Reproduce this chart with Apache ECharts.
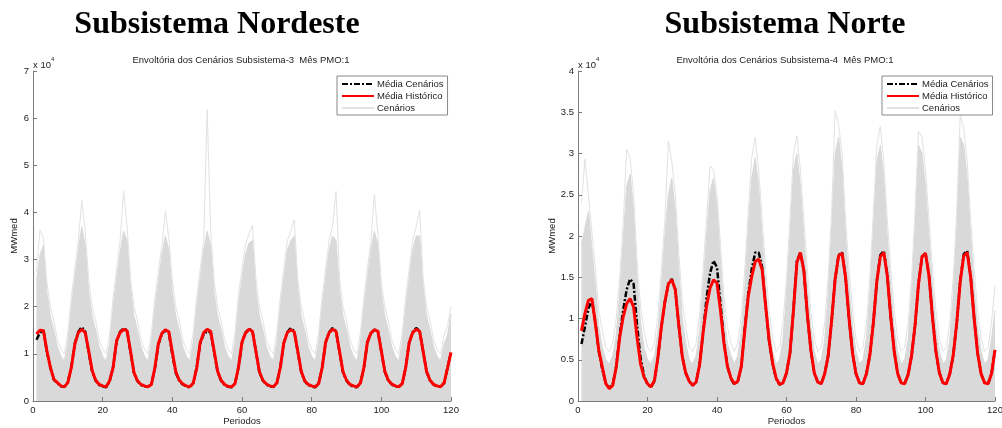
<!DOCTYPE html>
<html>
<head>
<meta charset="utf-8">
<style>body{margin:0;background:#fff;}</style>
</head>
<body>
<div id="main" style="width:1002px;height:428px;"></div>
<script src="https://cdn.jsdelivr.net/npm/echarts@6/dist/echarts.min.js"></script>
<script type="text/javascript">
// valores em x 10^4 MWmed, periodos 1..120 (uma linha por ano)
var nordesteHistorico = [
    1.42, 1.50, 1.49, 1.06, 0.71, 0.46, 0.39, 0.32, 0.30, 0.39, 0.71, 1.20,
    1.45, 1.52, 1.45, 1.06, 0.64, 0.44, 0.35, 0.32, 0.30, 0.43, 0.71, 1.28,
    1.45, 1.52, 1.49, 1.06, 0.60, 0.43, 0.35, 0.32, 0.30, 0.35, 0.71, 1.22,
    1.44, 1.51, 1.47, 1.04, 0.62, 0.44, 0.36, 0.32, 0.30, 0.38, 0.70, 1.24,
    1.45, 1.52, 1.48, 1.06, 0.63, 0.44, 0.35, 0.31, 0.30, 0.37, 0.72, 1.25,
    1.44, 1.52, 1.48, 1.05, 0.62, 0.44, 0.36, 0.32, 0.30, 0.38, 0.71, 1.23,
    1.45, 1.51, 1.47, 1.06, 0.63, 0.43, 0.35, 0.32, 0.30, 0.37, 0.70, 1.24,
    1.45, 1.52, 1.48, 1.05, 0.62, 0.44, 0.35, 0.32, 0.30, 0.38, 0.71, 1.25,
    1.44, 1.51, 1.48, 1.06, 0.63, 0.44, 0.36, 0.32, 0.30, 0.37, 0.71, 1.24,
    1.45, 1.52, 1.48, 1.05, 0.62, 0.44, 0.35, 0.32, 0.30, 0.38, 0.70, 1.03
];
var nordesteCenarios = [
    1.30, 1.45, 1.50, 1.04, 0.70, 0.45, 0.38, 0.31, 0.30, 0.40, 0.72, 1.22,
    1.47, 1.57, 1.47, 1.02, 0.62, 0.43, 0.34, 0.31, 0.29, 0.42, 0.72, 1.26,
    1.47, 1.54, 1.50, 1.03, 0.58, 0.42, 0.34, 0.31, 0.30, 0.36, 0.70, 1.20,
    1.42, 1.50, 1.44, 0.98, 0.60, 0.42, 0.35, 0.31, 0.29, 0.38, 0.71, 1.22,
    1.42, 1.48, 1.46, 1.04, 0.61, 0.43, 0.34, 0.30, 0.29, 0.37, 0.71, 1.24,
    1.45, 1.53, 1.49, 1.05, 0.61, 0.43, 0.35, 0.31, 0.30, 0.38, 0.71, 1.23,
    1.46, 1.55, 1.48, 1.05, 0.62, 0.42, 0.34, 0.31, 0.29, 0.37, 0.70, 1.24,
    1.46, 1.55, 1.48, 1.04, 0.61, 0.43, 0.34, 0.30, 0.29, 0.38, 0.71, 1.24,
    1.44, 1.51, 1.49, 1.05, 0.62, 0.43, 0.35, 0.31, 0.30, 0.37, 0.71, 1.24,
    1.46, 1.55, 1.48, 1.05, 0.62, 0.43, 0.35, 0.31, 0.30, 0.38, 0.70, 1.04
];
// limite superior da faixa densa dos cenarios e linha extrema
var nordesteTopo = [
    2.55, 3.10, 3.30, 2.30, 1.80, 1.50, 1.15, 0.95, 0.85, 1.25, 2.00, 2.60,
    3.20, 3.70, 3.30, 2.30, 1.80, 1.50, 1.15, 0.95, 0.85, 1.20, 2.00, 2.60,
    3.15, 3.60, 3.40, 2.40, 1.80, 1.50, 1.15, 0.95, 0.85, 1.25, 2.00, 2.55,
    3.10, 3.50, 3.20, 2.30, 1.80, 1.50, 1.15, 0.95, 0.85, 1.25, 2.00, 2.60,
    3.20, 3.60, 3.30, 2.30, 1.80, 1.50, 1.15, 0.95, 0.85, 1.25, 2.05, 2.60,
    3.10, 3.35, 3.40, 2.35, 1.80, 1.50, 1.15, 0.95, 0.85, 1.25, 2.00, 2.60,
    3.20, 3.40, 3.50, 2.40, 1.80, 1.50, 1.15, 0.95, 0.85, 1.25, 2.00, 2.60,
    3.20, 3.50, 3.40, 2.35, 1.80, 1.50, 1.15, 0.95, 0.85, 1.25, 2.00, 2.60,
    3.20, 3.60, 3.30, 2.30, 1.80, 1.50, 1.15, 0.95, 0.85, 1.25, 2.00, 2.60,
    3.20, 3.50, 3.50, 2.40, 1.80, 1.50, 1.15, 0.95, 0.85, 1.20, 1.40, 1.85
];
var nordesteMaximo = [
    2.75, 3.63, 3.45, 2.50, 2.00, 1.70, 1.30, 1.10, 1.00, 1.45, 2.20, 2.80,
    3.40, 4.25, 3.60, 2.55, 2.00, 1.70, 1.30, 1.10, 1.00, 1.40, 2.20, 2.80,
    3.40, 4.46, 3.70, 2.60, 2.00, 1.70, 1.30, 1.10, 1.00, 1.45, 2.20, 2.75,
    3.30, 4.03, 3.45, 2.55, 2.00, 1.70, 1.30, 1.10, 1.00, 1.45, 2.20, 2.80,
    3.40, 6.18, 3.60, 2.55, 2.00, 1.70, 1.30, 1.10, 1.00, 1.45, 2.25, 2.80,
    3.30, 3.55, 3.73, 2.60, 2.00, 1.70, 1.30, 1.10, 1.00, 1.45, 2.20, 2.80,
    3.40, 3.60, 3.84, 2.60, 2.00, 1.70, 1.30, 1.10, 1.00, 1.45, 2.20, 2.80,
    3.40, 3.70, 4.45, 2.60, 2.00, 1.70, 1.30, 1.10, 1.00, 1.45, 2.20, 2.80,
    3.40, 4.39, 3.55, 2.50, 2.00, 1.70, 1.30, 1.10, 1.00, 1.45, 2.20, 2.80,
    3.40, 3.70, 4.05, 2.60, 2.00, 1.70, 1.30, 1.10, 1.00, 1.40, 1.60, 2.00
];

var norteHistorico = [
    0.85, 1.06, 1.22, 1.24, 0.94, 0.61, 0.41, 0.21, 0.15, 0.19, 0.41, 0.77,
    1.02, 1.18, 1.24, 1.14, 0.77, 0.45, 0.29, 0.21, 0.17, 0.25, 0.53, 0.90,
    1.20, 1.42, 1.47, 1.35, 0.92, 0.54, 0.34, 0.24, 0.19, 0.23, 0.44, 0.83,
    1.15, 1.37, 1.47, 1.43, 1.10, 0.70, 0.42, 0.28, 0.21, 0.24, 0.42, 0.86,
    1.27, 1.51, 1.69, 1.72, 1.59, 1.15, 0.74, 0.46, 0.28, 0.20, 0.22, 0.34,
    0.58, 1.10, 1.68, 1.80, 1.58, 1.05, 0.62, 0.34, 0.23, 0.21, 0.33, 0.55,
    0.98, 1.48, 1.76, 1.79, 1.50, 1.00, 0.58, 0.33, 0.22, 0.21, 0.33, 0.56,
    0.95, 1.45, 1.75, 1.80, 1.52, 1.02, 0.60, 0.33, 0.22, 0.21, 0.32, 0.55,
    0.92, 1.42, 1.75, 1.79, 1.52, 1.02, 0.60, 0.34, 0.22, 0.21, 0.33, 0.56,
    0.95, 1.45, 1.76, 1.80, 1.50, 1.00, 0.58, 0.33, 0.22, 0.21, 0.33, 0.62
];
var norteCenarios = [
    0.69, 0.90, 1.12, 1.22, 0.96, 0.60, 0.38, 0.22, 0.16, 0.20, 0.42, 0.80,
    1.10, 1.35, 1.48, 1.42, 0.92, 0.52, 0.31, 0.20, 0.17, 0.24, 0.52, 0.90,
    1.20, 1.42, 1.48, 1.35, 0.92, 0.54, 0.34, 0.24, 0.19, 0.23, 0.44, 0.83,
    1.25, 1.55, 1.70, 1.62, 1.18, 0.72, 0.42, 0.27, 0.20, 0.24, 0.42, 0.88,
    1.30, 1.60, 1.80, 1.80, 1.62, 1.15, 0.72, 0.45, 0.27, 0.20, 0.22, 0.34,
    0.58, 1.10, 1.70, 1.80, 1.58, 1.04, 0.61, 0.34, 0.23, 0.21, 0.33, 0.55,
    0.97, 1.48, 1.77, 1.80, 1.50, 1.00, 0.58, 0.33, 0.22, 0.21, 0.33, 0.56,
    0.95, 1.46, 1.77, 1.82, 1.53, 1.02, 0.60, 0.33, 0.22, 0.21, 0.32, 0.55,
    0.92, 1.43, 1.75, 1.79, 1.52, 1.02, 0.60, 0.34, 0.22, 0.21, 0.33, 0.56,
    0.95, 1.46, 1.78, 1.82, 1.51, 1.00, 0.58, 0.33, 0.22, 0.21, 0.33, 0.62
];
var norteTopo = [
    1.90, 2.10, 2.30, 1.85, 1.40, 0.90, 0.65, 0.50, 0.45, 0.55, 0.80, 1.30,
    1.95, 2.60, 2.75, 2.30, 1.50, 0.95, 0.65, 0.50, 0.45, 0.55, 0.85, 1.40,
    2.00, 2.50, 2.70, 2.30, 1.60, 1.00, 0.70, 0.50, 0.45, 0.55, 0.85, 1.40,
    2.00, 2.55, 2.70, 2.35, 1.70, 1.05, 0.70, 0.55, 0.45, 0.55, 0.85, 1.40,
    2.10, 2.70, 2.95, 2.60, 2.00, 1.40, 0.90, 0.60, 0.45, 0.50, 0.75, 1.30,
    2.00, 2.80, 3.00, 2.60, 2.00, 1.40, 0.90, 0.60, 0.45, 0.50, 0.75, 1.30,
    2.10, 3.00, 3.20, 2.80, 2.00, 1.40, 0.90, 0.60, 0.45, 0.50, 0.75, 1.30,
    2.10, 2.90, 3.10, 2.70, 2.00, 1.40, 0.90, 0.60, 0.45, 0.50, 0.75, 1.30,
    2.10, 3.10, 3.00, 2.60, 2.00, 1.40, 0.90, 0.60, 0.45, 0.50, 0.75, 1.30,
    2.10, 3.20, 3.10, 2.70, 2.00, 1.40, 0.90, 0.60, 0.45, 0.50, 0.75, 1.10
];
var norteMaximo = [
    2.40, 2.93, 2.50, 2.05, 1.60, 1.10, 0.85, 0.65, 0.60, 0.70, 1.00, 1.50,
    2.15, 3.05, 2.95, 2.50, 1.70, 1.15, 0.85, 0.65, 0.60, 0.70, 1.05, 1.60,
    2.20, 3.15, 2.90, 2.50, 1.80, 1.20, 0.90, 0.65, 0.60, 0.70, 1.05, 1.60,
    2.20, 2.85, 2.80, 2.50, 1.90, 1.25, 0.90, 0.70, 0.60, 0.70, 1.05, 1.60,
    2.30, 2.95, 3.20, 2.80, 2.20, 1.60, 1.10, 0.75, 0.60, 0.65, 0.95, 1.50,
    2.20, 3.00, 3.21, 2.80, 2.20, 1.60, 1.10, 0.75, 0.60, 0.65, 0.95, 1.50,
    2.30, 3.52, 3.35, 3.00, 2.20, 1.60, 1.10, 0.75, 0.60, 0.65, 0.95, 1.50,
    2.30, 3.10, 3.33, 2.90, 2.20, 1.60, 1.10, 0.75, 0.60, 0.65, 0.95, 1.50,
    2.30, 3.27, 3.20, 2.80, 2.20, 1.60, 1.10, 0.75, 0.60, 0.65, 0.95, 1.50,
    2.30, 3.47, 3.30, 2.90, 2.20, 1.60, 1.10, 0.75, 0.60, 0.65, 0.95, 1.40
];

var fonte = '"Liberation Sans", Arial, Helvetica, sans-serif';
var corTexto = '#222';
var corEixo = '#7a7a7a';
var cinzaFaixa = '#d9d9d9';
var cinzaLinha = '#e2e2e2';

function pares(arr) {
    return arr.map(function (v, i) { return [i + 1, v]; });
}

function eixoX(idx) {
    return {
        gridIndex: idx, type: 'value', min: 0, max: 120, interval: 20,
        name: 'Periodos', nameLocation: 'middle', nameGap: 15, nameMoveOverlap: false,
        nameTextStyle: {fontFamily: fonte, fontSize: 9.5, color: corTexto},
        axisLine: {lineStyle: {color: corEixo, width: 1}},
        axisTick: {inside: true, length: 4, lineStyle: {color: corEixo}},
        axisLabel: {fontFamily: fonte, fontSize: 9.5, color: corTexto, margin: 4},
        splitLine: {show: false},
        z: 10
    };
}

function eixoY(idx, max, interval, gap) {
    return {
        gridIndex: idx, type: 'value', min: 0, max: max, interval: interval,
        name: 'MWmed', nameLocation: 'middle', nameGap: gap,
        nameTextStyle: {fontFamily: fonte, fontSize: 9.5, color: corTexto},
        axisLine: {show: true, lineStyle: {color: corEixo, width: 1}},
        axisTick: {show: true, inside: true, length: 4, lineStyle: {color: corEixo}},
        axisLabel: {fontFamily: fonte, fontSize: 9.5, color: corTexto, margin: 4},
        splitLine: {show: false},
        z: 10
    };
}

function series(idx, topo, maximo, cen, hist) {
    var comum = {type: 'line', xAxisIndex: idx, yAxisIndex: idx, symbol: 'none', silent: true};
    return [
        Object.assign({}, comum, {name: 'faixa', data: pares(topo), z: 1,
            lineStyle: {color: cinzaFaixa, width: 1}, areaStyle: {color: cinzaFaixa, opacity: 1}}),
        Object.assign({}, comum, {name: 'Cenários', data: pares(maximo), z: 2,
            lineStyle: {color: cinzaLinha, width: 1}}),
        Object.assign({}, comum, {name: 'Média Cenários', data: pares(cen), z: 3,
            lineStyle: {color: '#000000', width: 2.5, type: [6, 2, 2, 2]}}),
        Object.assign({}, comum, {name: 'Média Histórico', data: pares(hist), z: 4,
            lineStyle: {color: '#ff0000', width: 3}})
    ];
}

function legenda(left) {
    return {
        data: ['Média Cenários', 'Média Histórico', 'Cenários'],
        orient: 'vertical', left: left, top: 76,
        padding: [3, 4, 2, 4], itemGap: 2, itemWidth: 32, itemHeight: 11,
        borderColor: '#888', borderWidth: 1, borderRadius: 0, backgroundColor: '#fff',
        itemStyle: {opacity: 0},
        textStyle: {fontFamily: fonte, fontSize: 9.5, color: corTexto, padding: [0, 0, 0, -2]},
        selectedMode: false
    };
}

function tituloGrande(texto, x) {
    return {text: texto, left: x, top: 9, textAlign: 'center', padding: 0,
        textStyle: {fontFamily: '"Liberation Serif", "Times New Roman", serif', fontWeight: 'bold', fontSize: 32, color: '#000'}};
}
function tituloPequeno(texto, x) {
    return {text: texto, left: x, top: 55, textAlign: 'center', padding: 0,
        textStyle: {fontFamily: fonte, fontWeight: 'normal', fontSize: 9.5, color: corTexto}};
}
function escala(x) {
    return {text: '{a|x 10}{b|4}', left: x, top: 56, padding: 0,
        textStyle: {fontWeight: 'normal', rich: {
            a: {fontFamily: fonte, fontWeight: 'normal', fontSize: 9.5, color: corTexto, lineHeight: 14, verticalAlign: 'bottom'},
            b: {fontFamily: fonte, fontWeight: 'normal', fontSize: 6, color: corTexto, lineHeight: 9, verticalAlign: 'top'}
        }}};
}

var option = {
    animation: false,
    backgroundColor: '#fff',
    title: [
        tituloGrande('Subsistema Nordeste', 217),
        tituloGrande('Subsistema Norte', 785),
        tituloPequeno('Envoltória dos Cenários Subsistema-3  Mês PMO:1', 241),
        tituloPequeno('Envoltória dos Cenários Subsistema-4  Mês PMO:1', 785),
        escala(33),
        escala(578)
    ],
    legend: [legenda(337), legenda(882)],
    grid: [
        {left: 33, top: 71, width: 418, height: 330, outerBoundsMode: 'none'},
        {left: 578, top: 71, width: 417, height: 330, outerBoundsMode: 'none'}
    ],
    xAxis: [eixoX(0), eixoX(1)],
    yAxis: [eixoY(0, 7, 1, 12), eixoY(1, 4, 0.5, 18)],
    series: series(0, nordesteTopo, nordesteMaximo, nordesteCenarios, nordesteHistorico)
        .concat(series(1, norteTopo, norteMaximo, norteCenarios, norteHistorico))
};

var myChart = echarts.init(document.getElementById('main'));
myChart.setOption(option);
</script>
</body>
</html>
